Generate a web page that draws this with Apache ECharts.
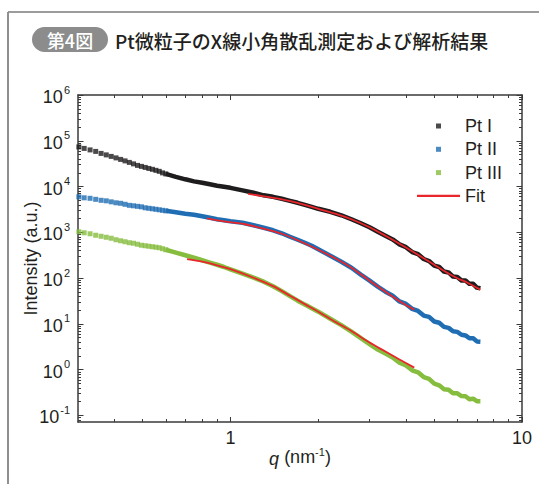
<!DOCTYPE html>
<html><head><meta charset="utf-8">
<script src="https://cdn.jsdelivr.net/npm/echarts@6/dist/echarts.min.js"></script>
<style>html,body{margin:0;padding:0;background:#fff}#c{width:539px;height:484px}</style>
</head><body><div id="c"></div>
<script>
// ---- data ----
const qLow = [0.302, 0.315, 0.33, 0.345, 0.36, 0.375, 0.39, 0.405, 0.42, 0.435, 0.45, 0.465, 0.48, 0.495, 0.51, 0.525, 0.54, 0.555, 0.57, 0.585, 0.60];
const ptILow = [73500, 68100, 63200, 58600, 53000, 49200, 45600, 42300, 39200, 36400, 33700, 31300, 29000, 27600, 26200, 24900, 23800, 22600, 21500, 19900, 18900];
const ptIILow = [5970, 5680, 5540, 5260, 5010, 4880, 4640, 4420, 4310, 4100, 3890, 3800, 3700, 3610, 3440, 3350, 3270, 3190, 3110, 3030, 2950];
const ptIIILow = [1030, 979, 931, 864, 821, 781, 743, 689, 655, 623, 593, 578, 550, 523, 510, 497, 485, 473, 461, 439, 417];

const qBand = [0.6, 0.65, 0.7, 0.75, 0.8, 0.85, 0.9, 0.95, 1.0, 1.1, 1.2, 1.3, 1.4, 1.5, 1.6, 1.7, 1.8, 1.9, 2.0, 2.2, 2.4, 2.6, 2.8, 3.0, 3.2, 3.4, 3.6, 3.8, 4.0, 4.2, 4.4, 4.6, 4.8, 5.0, 5.2, 5.4, 5.6, 5.8, 6.0, 6.2, 6.4, 6.6, 6.8, 7.0, 7.2];
const ptIBand = [18900, 16300, 14400, 13000, 12100, 11200, 10400, 9860, 9380, 8270, 7300, 6440, 5970, 5400, 4880, 4420, 3990, 3610, 3270, 2810, 2360, 1930, 1580, 1290, 1030, 842, 700, 545, 475, 372, 335, 262, 236, 188, 175, 139, 133, 108, 106, 89, 89, 75, 75, 62, 60];
const ptIIBand = [2950, 2740, 2540, 2420, 2240, 2080, 1930, 1830, 1740, 1620, 1430, 1260, 1110, 955, 801, 689, 593, 510, 428, 309, 228, 169, 119, 87.9, 65.1, 50.6, 41.5, 31.0, 27.3, 21.3, 19.2, 15.2, 14.2, 11.3, 10.6, 8.6, 8.2, 6.9, 6.7, 5.8, 5.6, 4.85, 4.85, 4.15, 4.1];
const ptIIIBand = [417, 359, 316, 279, 246, 219, 196, 175, 155, 125, 102, 83.6, 66.7, 51.9, 40.4, 32.2, 26.4, 22.1, 18.5, 13.0, 9.42, 6.79, 4.90, 3.63, 2.75, 2.25, 1.85, 1.42, 1.24, 0.97, 0.875, 0.69, 0.63, 0.495, 0.455, 0.375, 0.365, 0.305, 0.305, 0.265, 0.262, 0.226, 0.232, 0.205, 0.205];

const fitIQ = [1.15, 1.3, 1.5, 1.7, 2.0, 2.3, 2.6, 3.0, 3.4, 3.8, 4.2, 4.6, 5.0, 5.5, 6.0, 6.5, 7.2];
const fitIVal = [6940, 6120, 5270, 4420, 3270, 2540, 1930, 1290, 842, 564, 387, 272, 196, 135, 99.7, 79.5, 56.0];
const fitIIQ = [0.83, 0.95, 1.1, 1.3, 1.5, 1.7, 2.0, 2.3, 2.6, 3.0, 3.4, 3.8, 4.27];
const fitIIVal = [2030, 1740, 1540, 1200, 931, 672, 417, 265, 169, 87.9, 50.6, 31.4, 20.5];
const fitIIIQ = [0.71, 0.8, 0.9, 1.0, 1.2, 1.4, 1.6, 1.8, 2.0, 2.3, 2.6, 3.0, 3.4, 3.8, 4.27];
const fitIIIVal = [259, 228, 191, 157, 102, 66.7, 41.4, 27.0, 18.5, 10.9, 6.97, 3.91, 2.49, 1.67, 1.11];

const xTickLabels = [1, 10];
const yTickLabels = [0.1, 1, 10, 100, 1000, 10000, 100000, 1000000];
const seriesNames = ['Pt I', 'Pt II', 'Pt III', 'Fit'];
const titleTag = '第4図';
const titleText = 'Pt微粒子のX線小角散乱測定および解析結果';

// ---- styling ----
const FONT = "'Liberation Sans', Arial, Helvetica, sans-serif";
const JP = "'Noto Sans CJK JP', sans-serif";
const AX = '#3a3a3a';
const TXT = '#231f20';
const COLORS = ['#1e1c1d', '#1f6db3', '#86bd3e', '#e8262b'];
const xMin = 0.3, xMax = 10, yMin = 0.072, yMax = 1e6;

// minor tick positions (axis decoration)
const xMinor = [];
[0.1, 1].forEach(d => { for (let k = 2; k <= 9; k++) { const v = +(k * d).toPrecision(3); if (v > xMin && v < xMax) xMinor.push(v); } });
const yMinor = [];
[0.01, 0.1, 1, 10, 100, 1000, 10000, 100000].forEach(d => { for (let k = 2; k <= 9; k++) { const v = +(k * d).toPrecision(3); if (v > yMin && v < yMax) yMinor.push(v); } });

const zip = (a, b) => a.map((q, i) => [q, b[i]]);

function xAxisDef(pos, major, showLine, showLabel) {
  return {
    type: 'log', logBase: 10, min: xMin, max: xMax, position: pos,
    axisLine: { show: showLine, onZero: false, lineStyle: { color: AX, width: 1.5 } },
    axisTick: { show: true, inside: true, length: major ? 5 : 3, customValues: major ? xTickLabels : xMinor, lineStyle: { color: AX, width: 1 } },
    axisLabel: { show: showLabel, customValues: xTickLabels, margin: 7, color: TXT, fontSize: 18, fontFamily: FONT, formatter: v => String(Math.round(v)) },
    splitLine: { show: false }, minorTick: { show: false }, minorSplitLine: { show: false }
  };
}
function yAxisDef(pos, major, showLine, showLabel) {
  return {
    type: 'log', logBase: 10, min: yMin, max: yMax, position: pos,
    axisLine: { show: showLine, onZero: false, lineStyle: { color: AX, width: 1.5 } },
    axisTick: { show: true, inside: true, length: major ? 5.5 : 3, customValues: major ? yTickLabels : yMinor, lineStyle: { color: AX, width: 1 } },
    axisLabel: {
      show: showLabel, customValues: yTickLabels, margin: 8, color: TXT, fontFamily: FONT,
      formatter: v => '{b|10}{s|' + Math.round(Math.log10(v)) + '}',
      rich: {
        b: { fontSize: 18, fontFamily: FONT, color: TXT, lineHeight: 22, verticalAlign: 'bottom' },
        s: { fontSize: 11, fontFamily: FONT, color: TXT, lineHeight: 22, verticalAlign: 'top', padding: [0, 0, 0, 1] }
      }
    },
    splitLine: { show: false }, minorTick: { show: false }, minorSplitLine: { show: false }
  };
}

const xAxes = [xAxisDef('bottom', true, true, true), xAxisDef('bottom', false, false, false), xAxisDef('top', true, true, false), xAxisDef('top', false, false, false)];
Object.assign(xAxes[0], {
  name: '{i|q} (nm{s|-1})', nameLocation: 'middle', nameGap: 24, nameMoveOverlap: false,
  nameTextStyle: { color: TXT, fontSize: 18, fontFamily: FONT, rich: {
    i: { fontStyle: 'italic', fontSize: 18, fontFamily: FONT, color: TXT, lineHeight: 22, verticalAlign: 'bottom' },
    s: { fontSize: 11, fontFamily: FONT, color: TXT, lineHeight: 22, verticalAlign: 'top' } } }
});
const yAxes = [yAxisDef('left', true, true, true), yAxisDef('left', false, false, false), yAxisDef('right', true, true, false), yAxisDef('right', false, false, false)];
Object.assign(yAxes[0], {
  name: 'Intensity (a.u.)', nameLocation: 'middle', nameGap: 38, nameMoveOverlap: false,
  nameTextStyle: { color: TXT, fontSize: 18, fontFamily: FONT }
});

const scatterBase = { type: 'scatter', symbol: 'rect', symbolSize: 5, silent: true, clip: true };
const bandBase = { type: 'line', symbol: 'none', silent: true, lineStyle: { width: 4.5, cap: 'butt', join: 'round' } };
const fitBase = { type: 'line', symbol: 'none', silent: true, smooth: 0.3, lineStyle: { width: 1.8, color: COLORS[3] }, itemStyle: { color: COLORS[3] }, z: 5 };

const series = [
  Object.assign({}, scatterBase, { name: seriesNames[0], itemStyle: { color: COLORS[0] }, data: zip(qLow, ptILow) }),
  Object.assign({}, bandBase, { name: seriesNames[0], itemStyle: { color: COLORS[0] }, lineStyle: Object.assign({}, bandBase.lineStyle, { color: COLORS[0] }), data: zip(qBand, ptIBand) }),
  Object.assign({}, scatterBase, { name: seriesNames[1], itemStyle: { color: COLORS[1] }, data: zip(qLow, ptIILow) }),
  Object.assign({}, bandBase, { name: seriesNames[1], itemStyle: { color: COLORS[1] }, lineStyle: Object.assign({}, bandBase.lineStyle, { color: COLORS[1] }), data: zip(qBand, ptIIBand) }),
  Object.assign({}, scatterBase, { name: seriesNames[2], itemStyle: { color: COLORS[2] }, data: zip(qLow, ptIIILow) }),
  Object.assign({}, bandBase, { name: seriesNames[2], itemStyle: { color: COLORS[2] }, lineStyle: Object.assign({}, bandBase.lineStyle, { color: COLORS[2] }), data: zip(qBand, ptIIIBand) }),
  Object.assign({}, fitBase, { name: seriesNames[3], data: zip(fitIQ, fitIVal) }),
  Object.assign({}, fitBase, { name: seriesNames[3], data: zip(fitIIQ, fitIIVal) }),
  Object.assign({}, fitBase, { name: seriesNames[3], data: zip(fitIIIQ, fitIIIVal) })
];

const SQ = 'path://M0,0h10v10h-10z';
const LN = 'path://M0,0h40v2h-40z';

const option = {
  backgroundColor: '#fff',
  animation: false,
  grid: { left: 78, right: 17, top: 95, bottom: 62, containLabel: false },
  xAxis: xAxes,
  yAxis: yAxes,
  legend: {
    orient: 'vertical', left: 412, top: 111, itemWidth: 43, itemHeight: 5, itemGap: 3.3,
    symbolKeepAspect: true, selectedMode: false,
    textStyle: { color: TXT, fontSize: 18, fontFamily: FONT, lineHeight: 20 },
    data: [
      { name: seriesNames[0], icon: SQ },
      { name: seriesNames[1], icon: SQ },
      { name: seriesNames[2], icon: SQ },
      { name: seriesNames[3], icon: LN }
    ]
  },
  graphic: [
    { type: 'line', silent: true, shape: { x1: 8, y1: 12, x2: 539, y2: 12 }, style: { stroke: '#3a3a3a', lineWidth: 1.2 } },
    { type: 'line', silent: true, shape: { x1: 8, y1: 12, x2: 8, y2: 484 }, style: { stroke: '#8f8f8f', lineWidth: 2 } },
    { type: 'rect', silent: true, shape: { x: 32, y: 27, width: 76, height: 25, r: 12.5 }, style: { fill: '#8c8c8c' } },
    { type: 'text', silent: true, x: 70, y: 40, style: { text: titleTag, fill: '#fff', fontSize: 18, fontFamily: JP, fontWeight: 500, align: 'center', verticalAlign: 'middle' } },
    { type: 'text', silent: true, x: 115, y: 40, style: { text: titleText, fill: TXT, fontSize: 19, fontFamily: JP, fontWeight: 500, align: 'left', verticalAlign: 'middle' } }
  ],
  series: series
};

const chart = echarts.init(document.getElementById('c'), null, { renderer: 'svg' });
chart.setOption(option);
</script>
</body></html>
